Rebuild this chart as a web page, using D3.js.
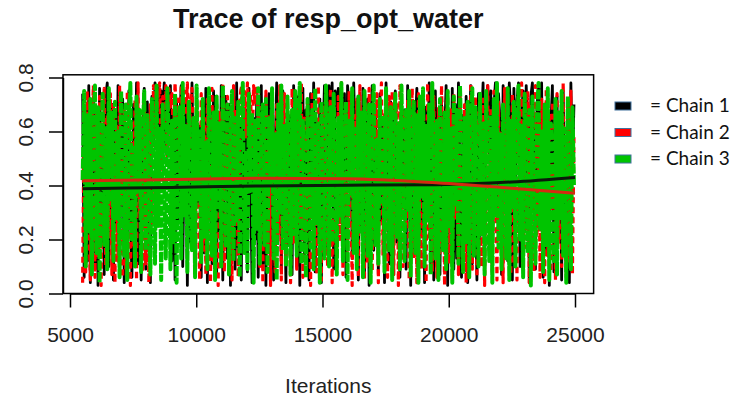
<!DOCTYPE html>
<html>
<head>
<meta charset="utf-8">
<script src="https://cdn.jsdelivr.net/npm/d3@7"></script>
<style>
  html, body { margin: 0; padding: 0; background: #fff; }
  svg { display: block; }
</style>
</head>
<body>
<svg id="chart" width="731" height="400"></svg>
<script>
// MCMC trace of resp_opt_water, three chains (thinned draws)
const firstIteration = 5500;
const thin = 61;

const chain1 = [
  .74,.06,.69,.12,.77,.04,.58,.71,.09,.66,.03,.76,.18,.62,.07,.73,.78,.10,.51,.70,
  .05,.68,.24,.77,.08,.55,.72,.04,.63,.14,.75,.30,.06,.70,.42,.78,.11,.66,.05,.59,
  .76,.09,.71,.36,.04,.73,.56,.78,.61,.77,.49,.75,.66,.78,.52,.74,.60,.77,.12,.68,
  .05,.72,.27,.63,.77,.10,.54,.70,.03,.66,.19,.78,.45,.08,.74,.33,.62,.06,.71,.15,
  .76,.04,.58,.69,.11,.75,.39,.07,.67,.23,.77,.05,.60,.73,.13,.70,.03,.64,.48,.09,
  .78,.17,.62,.05,.74,.31,.68,.08,.76,.43,.04,.65,.20,.72,.06,.57,.77,.11,.69,.03,
  .61,.74,.14,.70,.05,.53,.78,.26,.63,.09,.75,.37,.04,.71,.18,.66,.07,.77,.46,.10,
  .73,.03,.60,.76,.12,.68,.28,.05,.74,.41,.78,.08,.64,.21,.72,.04,.56,.77,.15,.70,
  .77,.62,.78,.09,.75,.66,.76,.34,.78,.58,.74,.06,.77,.69,.73,.13,.78,.55,.71,.05,
  .67,.24,.76,.08,.63,.72,.03,.59,.77,.16,.69,.44,.07,.74,.27,.65,.04,.78,.38,.11,
  .71,.05,.64,.75,.19,.57,.06,.73,.32,.68,.09,.77,.49,.03,.70,.14,.62,.76,.08,.66,
  .22,.74,.04,.69,.40,.78,.10,.61,.05,.75,.29,.67,.07,.72,.17,.58,.77,.03,.64,.35,
  .76,.09,.70,.13,.78,.47,.06,.66,.25,.73,.04,.60,.77,.11,.68,.37,.05,.74,.20,.63,
  .78,.08,.72,.77,.52,.75,.04,.69,.78,.30,.74,.64,.07,.77,.58,.73,.12,.78,.66,.05,
  .76,.43,.71,.78,.10,.67,.75,.23,.77,.61,.04,.73,.78,.55,.09,.70,.76,.36,.78,.06,
  .68,.15,.74,.03,.62,.77,.08,.57,.73,.19,.66,.05,.75,.39,.11,.71,.04,.78,.46,.70
];

const chain2 = [
  .04,.70,.08,.75,.27,.05,.63,.77,.06,.68,.14,.73,.03,.59,.76,.10,.66,.21,.74,.07,
  .71,.04,.62,.12,.77,.35,.06,.69,.09,.75,.47,.03,.64,.18,.72,.05,.78,.29,.61,.08,
  .74,.11,.67,.04,.70,.26,.77,.58,.75,.68,.78,.46,.73,.62,.77,.51,.76,.69,.74,.57,
  .78,.63,.72,.44,.77,.60,.75,.66,.78,.49,.71,.76,.55,.09,.69,.33,.05,.74,.16,.65,
  .07,.72,.39,.04,.76,.12,.61,.70,.03,.67,.24,.78,.08,.56,.73,.13,.64,.05,.77,.31,
  .68,.06,.71,.77,.62,.75,.58,.78,.66,.74,.53,.77,.70,.76,.64,.10,.69,.04,.57,.75,
  .15,.66,.03,.73,.42,.08,.70,.22,.77,.05,.60,.74,.11,.67,.36,.04,.76,.19,.63,.09,
  .72,.28,.78,.06,.65,.13,.71,.48,.03,.75,.17,.62,.08,.77,.40,.05,.69,.25,.74,.10,
  .58,.76,.04,.67,.34,.09,.73,.20,.78,.07,.61,.70,.12,.75,.45,.03,.66,.16,.72,.06,
  .77,.30,.64,.05,.71,.11,.76,.52,.08,.69,.23,.74,.04,.60,.78,.14,.67,.38,.06,.73,
  .18,.75,.07,.63,.70,.03,.77,.41,.10,.68,.26,.72,.05,.59,.76,.13,.65,.04,.74,.32,
  .09,.71,.56,.04,.78,.21,.66,.08,.73,.37,.06,.69,.15,.77,.50,.03,.62,.75,.11,.68,
  .05,.74,.28,.61,.07,.76,.43,.12,.70,.04,.65,.19,.78,.09,.57,.73,.06,.67,.34,.10,
  .72,.03,.63,.77,.16,.69,.08,.75,.48,.05,.71,.25,.60,.04,.76,.13,.66,.39,.07,.74,
  .11,.68,.05,.73,.30,.78,.09,.62,.17,.75,.04,.70,.44,.08,.77,.22,.64,.06,.72,.36,
  .04,.76,.14,.67,.08,.71,.53,.05,.74,.19,.63,.10,.78,.27,.06,.69,.12,.75,.07,.58
];

const chain3 = [
  .42,.75,.10,.66,.23,.72,.07,.57,.77,.15,.69,.04,.51,.74,.18,.62,.09,.76,.34,.67,
  .12,.71,.28,.60,.06,.75,.45,.14,.70,.05,.63,.78,.20,.54,.10,.73,.37,.68,.08,.59,
  .75,.16,.66,.31,.07,.72,.48,.11,.77,.25,.61,.05,.70,.40,.13,.76,.55,.09,.64,.19,
  .74,.04,.58,.69,.13,.78,.29,.62,.08,.71,.46,.16,.65,.06,.77,.35,.60,.11,.72,.21,
  .56,.09,.76,.43,.14,.67,.05,.73,.32,.63,.10,.77,.50,.17,.70,.07,.59,.75,.12,.65,
  .27,.71,.06,.61,.78,.15,.52,.09,.74,.38,.67,.04,.64,.24,.76,.11,.57,.70,.18,.72,
  .08,.65,.41,.76,.13,.59,.05,.70,.30,.77,.16,.62,.10,.73,.47,.07,.68,.22,.75,.14,
  .60,.78,.11,.64,.33,.06,.72,.49,.17,.68,.09,.76,.26,.63,.04,.71,.39,.13,.77,.54,
  .10,.69,.19,.74,.44,.07,.65,.28,.78,.12,.58,.71,.05,.64,.36,.76,.15,.61,.09,.73,
  .23,.67,.06,.75,.50,.14,.70,.04,.62,.77,.18,.57,.11,.72,.34,.66,.08,.76,.45,.16,
  .69,.05,.60,.74,.21,.63,.09,.77,.40,.12,.68,.31,.75,.06,.58,.71,.15,.66,.04,.73,
  .36,.76,.10,.62,.27,.70,.07,.78,.48,.13,.64,.05,.72,.42,.16,.67,.09,.75,.25,.61,
  .04,.73,.33,.68,.11,.77,.53,.08,.65,.19,.71,.06,.60,.76,.14,.69,.38,.10,.74,.22,
  .63,.07,.75,.46,.12,.66,.04,.72,.29,.78,.17,.59,.09,.70,.41,.13,.76,.05,.64,.32,
  .71,.10,.57,.77,.20,.62,.06,.74,.47,.15,.68,.03,.73,.35,.11,.66,.78,.24,.60,.08,
  .70,.18,.76,.05,.63,.39,.12,.72,.07,.67,.28,.75,.14,.61,.04,.73,.49,.09,.69,.40
];

// lowess smooths of chains 1 and 2
const smoothIterations = [5500, 9000, 12500, 16000, 19500, 22500, 25000];
const smooth1 = [0.388, 0.393, 0.398, 0.401, 0.403, 0.413, 0.430];
const smooth2 = [0.418, 0.422, 0.427, 0.425, 0.410, 0.390, 0.371];

const xTicks = [5000, 10000, 15000, 20000, 25000];
const yTicks = [0.0, 0.2, 0.4, 0.6, 0.8];
const chainNames = ["Chain 1", "Chain 2", "Chain 3"];
const chainColors = ["#000000", "#FF0000", "#00C400"];

const svg = d3.select("#chart");

const chains = [chain1, chain2, chain3];
const iters = chain1.map((_, i) => firstIteration + i * thin);

// axis ranges padded 4% beyond the data, as in base graphics
const xExt = d3.extent(iters);
const yExt = d3.extent(chains.flat());
const xPad = (xExt[1] - xExt[0]) * 0.04;
const yPad = (yExt[1] - yExt[0]) * 0.04;

const x = d3.scaleLinear().domain([5000, 25000]).range([70, 575]);
const y = d3.scaleLinear().domain([0, 0.8]).range([293.5, 77.5]);

const boxL = x(xExt[0] - xPad), boxR = x(xExt[1] + xPad);
const boxT = y(yExt[1] + yPad), boxB = y(yExt[0] - yPad);

svg.append("defs").append("clipPath").attr("id", "plotClip")
  .append("rect").attr("x", boxL).attr("y", boxT)
  .attr("width", boxR - boxL).attr("height", boxB - boxT);

const plot = svg.append("g").attr("clip-path", "url(#plotClip)");

const line = d3.line().x((d, i) => x(iters[i])).y(d => y(d));
// solid, dashed and dotted traces, drawn in chain order
const styles = [
  { width: 2.8, dash: null },
  { width: 3.2, dash: "6,4" },
  { width: 4.0, dash: "10,1.5" }
];

chains.forEach((c, k) => {
  plot.append("path")
    .datum(c)
    .attr("d", line)
    .attr("fill", "none")
    .attr("stroke", chainColors[k])
    .attr("stroke-width", styles[k].width)
    .attr("stroke-linejoin", "round")
    .attr("stroke-dasharray", styles[k].dash);
});

const smoothLine = d3.line()
  .x((d, i) => x(smoothIterations[i]))
  .y(d => y(d))
  .curve(d3.curveMonotoneX);

[smooth1, smooth2].forEach((s, k) => {
  plot.append("path")
    .datum(s)
    .attr("d", smoothLine)
    .attr("fill", "none")
    .attr("stroke", k === 0 ? "#0a1a0a" : "#d42a10")
    .attr("stroke-width", 3);
});

// plot frame
svg.append("rect")
  .attr("x", boxL).attr("y", boxT)
  .attr("width", boxR - boxL).attr("height", boxB - boxT)
  .attr("fill", "none").attr("stroke", "#000").attr("stroke-width", 1.5);

const fontFamily = "'Liberation Sans', Arial, sans-serif";

// x axis
const xAxis = svg.append("g")
  .attr("transform", `translate(0,${boxB})`)
  .call(d3.axisBottom(x).tickValues(xTicks).tickSize(14).tickSizeOuter(0).tickPadding(20).tickFormat(d3.format("d")));
xAxis.select(".domain").attr("stroke-width", 1.5);
xAxis.selectAll(".tick line").attr("stroke-width", 1.5);
xAxis.selectAll("text")
  .attr("font-family", fontFamily).attr("font-size", 21).attr("fill", "#222")
  .attr("dy", "0.71em");

// y axis, labels parallel to the axis
const yAxis = svg.append("g")
  .attr("transform", `translate(${boxL},0)`)
  .call(d3.axisLeft(y).tickValues(yTicks).tickSize(14).tickSizeOuter(0).tickFormat(d3.format(".1f")));
yAxis.select(".domain").attr("stroke-width", 1.5);
yAxis.selectAll(".tick line").attr("stroke-width", 1.5);
yAxis.selectAll("text")
  .attr("font-family", fontFamily).attr("font-size", 21).attr("fill", "#222")
  .attr("x", null).attr("dy", null)
  .attr("text-anchor", "middle")
  .attr("transform", `translate(${33 - boxL},0) rotate(-90)`);

// title and axis title
svg.append("text")
  .attr("x", (boxL + boxR) / 2).attr("y", 28)
  .attr("text-anchor", "middle")
  .attr("font-family", fontFamily).attr("font-weight", "bold").attr("font-size", 27)
  .attr("fill", "#111")
  .text("Trace of resp_opt_water");

svg.append("text")
  .attr("x", (boxL + boxR) / 2).attr("y", 393)
  .attr("text-anchor", "middle")
  .attr("font-family", fontFamily).attr("font-size", 21).attr("fill", "#222")
  .text("Iterations");

// legend
const legend = svg.append("g");
const legendBaselines = [112, 138.5, 165];
chainNames.forEach((name, k) => {
  legend.append("rect")
    .attr("x", 615).attr("y", legendBaselines[k] - 10)
    .attr("width", 16).attr("height", 8)
    .attr("fill", chainColors[k])
    .attr("stroke", "#41719C").attr("stroke-width", 1);
  legend.append("text")
    .attr("x", 650).attr("y", legendBaselines[k])
    .attr("font-family", "Lato, 'Open Sans', sans-serif").attr("font-size", 19)
    .attr("fill", "#111")
    .text("= " + name);
});
</script>
</body>
</html>
